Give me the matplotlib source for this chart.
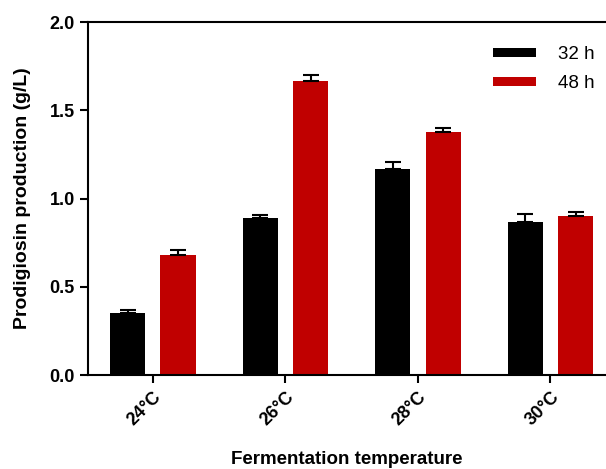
import matplotlib.pyplot as plt
import numpy as np

plt.rcParams['font.family'] = ['Liberation Sans', 'DejaVu Sans']

temps = ['24°C', '26°C', '28°C', '30°C']
h32 = [0.35, 0.89, 1.165, 0.87]
h32_err = [0.017, 0.02, 0.045, 0.045]
h48 = [0.683, 1.666, 1.375, 0.899]
h48_err = [0.025, 0.035, 0.025, 0.026]

x = np.arange(len(temps))
w = 0.265
off = 0.19

fig = plt.figure(figsize=(6.06, 4.69), dpi=100)
ax = fig.add_axes([0.145, 0.2, 0.853, 0.753])

ekw = dict(elinewidth=1.5, capthick=1.5, ecolor='black')
ax.bar(x - off, h32, w, color='black', label='32 h')
ax.errorbar(x - off, h32, yerr=[np.zeros(4), h32_err], fmt='none', capsize=6, **ekw)
ax.bar(x + off, h48, w, color='#c00000', label='48 h')
ax.errorbar(x + off, h48, yerr=[np.zeros(4), h48_err], fmt='none', capsize=6, **ekw)

ax.set_xlim(-0.49, 3.41)
ax.set_ylim(0, 2.0)
ax.set_yticks([0, 0.5, 1.0, 1.5, 2.0])
ax.set_yticklabels(['0.0', '0.5', '1.0', '1.5', '2.0'], fontsize=13, fontweight='bold')
ax.set_xticks(x)
ax.set_xticklabels(temps, rotation=45, ha='right', rotation_mode='anchor',
                   fontsize=13, fontweight='bold')

ax.spines['right'].set_visible(False)
for s in ['left', 'bottom', 'top']:
    ax.spines[s].set_linewidth(1.5)
ax.tick_params(width=1.5, length=6)

ax.set_ylabel('Prodigiosin production (g/L)', fontsize=14, fontweight='bold', labelpad=13)
ax.set_xlabel('Fermentation temperature', fontsize=13.5, fontweight='bold', labelpad=16)

ax.legend(loc='upper right', bbox_to_anchor=(1.013, 0.98), frameon=False, fontsize=13.5,
          handlelength=2.25, handleheight=0.4, labelspacing=0.65, handletextpad=1.2)

plt.savefig('out.png', dpi=100)
